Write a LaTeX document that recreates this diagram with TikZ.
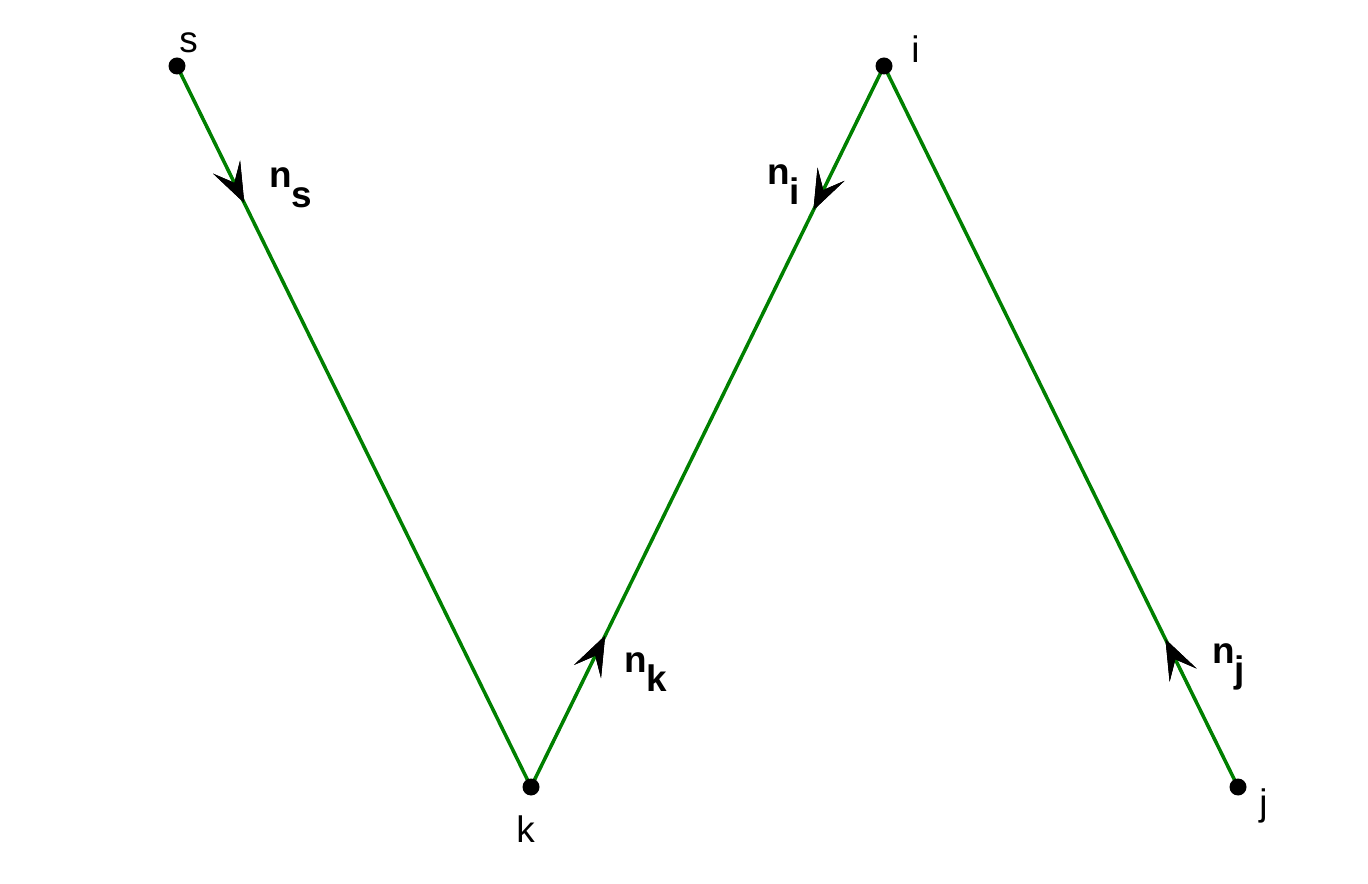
\documentclass[tikz,border=0pt]{standalone}
\usepackage{fontspec}
\setmainfont{Liberation Sans}
\usepackage{xcolor}
\usetikzlibrary{calc,arrows.meta,positioning}
\definecolor{linegreen}{RGB}{0,128,0}

\begin{document}
\begin{tikzpicture}[x=0.02cm,y=-0.02cm,
	edge/.style={linegreen,line width=2pt},
	normal/.style={black,line width=1.4pt,-{Stealth[length=0.8cm,width=0.6cm,inset=0.35cm]}},
	lbl/.style={anchor=base west,inner sep=0pt,font=\fontsize{21}{25}\selectfont},
	nlbl/.style={anchor=base west,inner sep=0pt,font=\fontsize{21}{25}\selectfont\bfseries}]
	\useasboundingbox (0,0) rectangle (1368,884);
	\coordinate (s) at (177,66);
	\coordinate (k) at (531,787);
	\coordinate (i) at (884,66);
	\coordinate (j) at (1238,787);
	% normals
	\foreach \from/\to/\pos in {s/k/0.19,k/i/0.21,i/k/0.2,j/i/0.205}
		\draw[normal] (\from) -- ($(\from)!\pos!(\to)$);
	\draw[edge] (s) -- (k) -- (i) -- (j);
	\foreach \from/\to/\pos in {s/k/0.19,k/i/0.21,i/k/0.2,j/i/0.205}
		\draw[normal,line width=0.4pt] ($(\from)!\pos-0.01!(\to)$) -- ($(\from)!\pos!(\to)$);
	\foreach \p in {s,k,i,j}
		\fill[black] (\p) circle (0.17cm);
	% point labels
	\node[lbl] (s label) at (179,53) {s};
	\node[lbl] (k label) at (516,842) {k};
	\node[lbl] (i label) at (911,63) {i};
	\node[lbl] (j label) at (1259,815) {j};
	% normal labels
	\node[nlbl] (ns label) at (269,188) {n\raisebox{-0.4cm}{s}};
	\node[nlbl] (nk label) at (624,672) {n\raisebox{-0.4cm}{k}};
	\node[nlbl] (ni label) at (767,185) {n\raisebox{-0.4cm}{i}};
	\node[nlbl] (nj label) at (1212,663) {n\raisebox{-0.4cm}{j}};
\end{tikzpicture}
\end{document}
